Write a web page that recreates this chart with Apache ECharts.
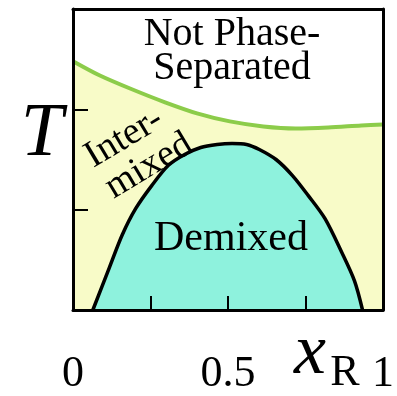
<!DOCTYPE html>
<html>
<head>
<meta charset="utf-8">
<script src="https://cdn.jsdelivr.net/npm/echarts@6/dist/echarts.min.js"></script>
</head>
<body style="margin:0;background:#fff">
<div id="c" style="width:397px;height:396px"></div>
<script>
// Upper boundary (green): x_R vs T
const greenX = [0, 0.085, 0.19, 0.297, 0.40, 0.506, 0.614, 0.718, 0.823, 0.93, 1.0];
const greenT = [2.48, 2.34, 2.20, 2.07, 1.96, 1.88, 1.83, 1.81, 1.82, 1.84, 1.85];
// Demixing dome (black)
const domeX = [0.064, 0.117, 0.159, 0.202, 0.254, 0.307, 0.360, 0.412, 0.465, 0.513, 0.560, 0.601, 0.655, 0.708, 0.759, 0.813, 0.866, 0.908, 0.934];
const domeT = [0, 0.42, 0.75, 1.01, 1.24, 1.44, 1.55, 1.62, 1.65, 1.66, 1.65, 1.60, 1.50, 1.34, 1.14, 0.91, 0.58, 0.29, 0];
const xTickLabels = {0: '0', 0.5: '0.5', 1: '1'};

const chart = echarts.init(document.getElementById('c'));
const pairs = (xs, ys) => xs.map((x, i) => [x, ys[i]]);

function label(text, x, y, size, rot, italic) {
  const st = { text: text, fontFamily: 'Liberation Serif', fontSize: size, fill: '#000', align: 'center', verticalAlign: 'middle' };
  if (italic) st.fontStyle = 'italic';
  return { type: 'text', x: x, y: y, z: 20, rotation: (rot || 0) * Math.PI / 180, style: st };
}

chart.setOption({
  textStyle: { fontFamily: 'Liberation Serif' },
  grid: { left: 73, right: 8, top: 9, bottom: 84, show: true, backgroundColor: '#f8fbc8', borderWidth: 0 },
  xAxis: [{
    type: 'value', min: 0, max: 1, interval: 0.25, z: 10,
    axisLine: { show: true, lineStyle: { color: '#000', width: 3 } },
    axisTick: { show: true, inside: true, length: 14, lineStyle: { color: '#000', width: 2 } },
    axisLabel: { formatter: v => xTickLabels[v] || '', fontFamily: 'Liberation Serif', fontSize: 44, color: '#000', margin: 42 },
    splitLine: { show: false }
  }, {
    type: 'value', min: 0, max: 1, position: 'top', z: 10,
    axisLine: { show: true, onZero: false, lineStyle: { color: '#000', width: 3 } },
    axisTick: { show: false }, axisLabel: { show: false }, splitLine: { show: false }
  }],
  yAxis: [{
    type: 'value', min: 0, max: 3, interval: 1, z: 10,
    axisLine: { show: true, lineStyle: { color: '#000', width: 3 } },
    axisTick: { show: true, inside: true, length: 15, lineStyle: { color: '#000', width: 2 } },
    axisLabel: { show: false }, splitLine: { show: false }
  }, {
    type: 'value', min: 0, max: 3, position: 'right', z: 10,
    axisLine: { show: true, onZero: false, lineStyle: { color: '#000', width: 3 } },
    axisTick: { show: false }, axisLabel: { show: false }, splitLine: { show: false }
  }],
  series: [{
    type: 'line', data: pairs(greenX, greenT), smooth: 0.3, symbol: 'none', animation: false,
    lineStyle: { color: '#8ccc4a', width: 4 },
    areaStyle: { origin: 'end', color: '#ffffff', opacity: 1 }, z: 2
  }, {
    type: 'line', data: pairs(domeX, domeT), smooth: 0.3, symbol: 'none', animation: false,
    lineStyle: { color: '#000', width: 3.5 },
    areaStyle: { origin: 'start', color: '#8ef2dd', opacity: 1 }, z: 3
  }],
  graphic: [
    label('Not Phase-', 232, 34, 40),
    label('Separated', 232, 68, 40),
    label('Demixed', 231, 239, 42),
    label('Inter-', 124, 138, 38, 31),
    label('mixed', 149, 166, 38, 31),
    label('T', 42, 135, 76, 0, true),
    label('x', 310, 354, 72, 0, true),
    label('R', 345, 373, 44)
  ]
});
</script>
</body>
</html>
